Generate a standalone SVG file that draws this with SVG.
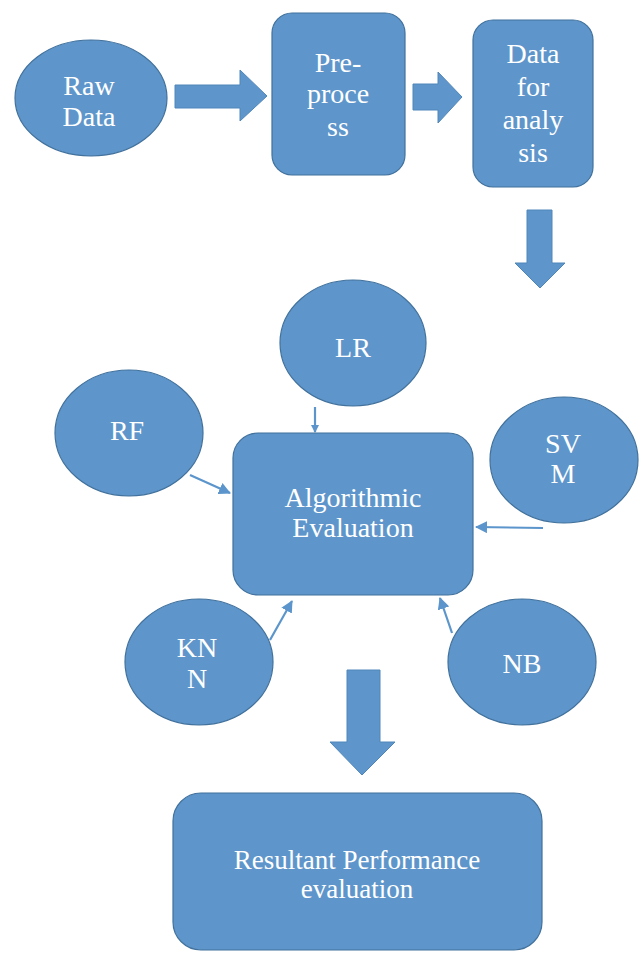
<svg xmlns="http://www.w3.org/2000/svg" width="639" height="958" viewBox="0 0 639 958">
<defs>
<style>
.n{fill:#5E96CB;stroke:#41719C;stroke-width:1.2}
.t{font-family:'Liberation Serif','Times New Roman',serif;font-size:28px;fill:#FFFFFF;text-anchor:middle}
.ba{fill:#5E96CB;stroke:#4F86BA;stroke-width:1}
.c{stroke:#5B95CB;stroke-width:2.2;fill:none}
</style>
<marker id="ah" markerWidth="8" markerHeight="8" refX="7" refY="4" orient="auto" markerUnits="userSpaceOnUse" viewBox="0 0 8 8">
<path d="M0,0 L8,4 L0,8 Z" fill="#5B95CB"/>
</marker>
<marker id="ahb" markerWidth="12" markerHeight="12" refX="11" refY="6" orient="auto" markerUnits="userSpaceOnUse" viewBox="0 0 12 12">
<path d="M0,0 L12,6 L0,12 Z" fill="#5B95CB"/>
</marker>
</defs>
<rect width="639" height="958" fill="#FFFFFF"/>
<g id="connectors">
<path class="ba" d="M175,85 L240,85 L240,70 L267,96 L240,121 L240,108 L175,108 Z"/>
<path class="ba" d="M413,84 L438,84 L438,72 L462,97 L438,123 L438,110 L413,110 Z"/>
<path class="ba" d="M527,210 L552,210 L552,263 L565,263 L540,288 L515,263 L527,263 Z"/>
<path class="ba" d="M347,670 L380,670 L380,742 L395,742 L362,775 L330,742 L347,742 Z"/>
<line class="c" x1="315" y1="407" x2="315" y2="432" marker-end="url(#ah)"/>
<line class="c" x1="190" y1="475" x2="230" y2="493" marker-end="url(#ahb)"/>
<line class="c" x1="543" y1="528" x2="476" y2="527" marker-end="url(#ahb)"/>
<line class="c" x1="270" y1="640" x2="292" y2="601" marker-end="url(#ahb)"/>
<line class="c" x1="452" y1="633" x2="440" y2="598" marker-end="url(#ahb)"/>
</g>
<g id="raw-data">
<ellipse class="n" cx="91" cy="98" rx="76" ry="58"/>
<text class="t" x="89" y="95" font-family="Liberation Serif, serif">Raw</text>
<text class="t" x="89" y="126" font-family="Liberation Serif, serif">Data</text>
</g>
<g id="preprocess">
<rect class="n" x="272" y="13" width="133" height="162" rx="20"/>
<text class="t" x="338" y="72">Pre-</text>
<text class="t" x="338" y="103">proce</text>
<text class="t" x="338" y="136">ss</text>
</g>
<g id="data-for-analysis">
<rect class="n" x="473" y="20" width="120" height="167" rx="20"/>
<text class="t" x="533" y="63">Data</text>
<text class="t" x="533" y="96">for</text>
<text class="t" x="533" y="129">analy</text>
<text class="t" x="533" y="162">sis</text>
</g>
<g id="lr">
<ellipse class="n" cx="353" cy="343" rx="73" ry="63"/>
<text class="t" x="353" y="357">LR</text>
</g>
<g id="rf">
<ellipse class="n" cx="129" cy="433" rx="74" ry="63"/>
<text class="t" x="127" y="440">RF</text>
</g>
<g id="svm">
<ellipse class="n" cx="564" cy="460" rx="74" ry="63"/>
<text class="t" x="563" y="453">SV</text>
<text class="t" x="563" y="483">M</text>
</g>
<g id="algorithmic-evaluation">
<rect class="n" x="233" y="433" width="240" height="162" rx="25"/>
<text class="t" x="353" y="507">Algorithmic</text>
<text class="t" x="353" y="537">Evaluation</text>
</g>
<g id="knn">
<ellipse class="n" cx="199" cy="662" rx="74" ry="63"/>
<text class="t" x="197" y="657">KN</text>
<text class="t" x="197" y="688">N</text>
</g>
<g id="nb">
<ellipse class="n" cx="522" cy="662" rx="74" ry="63"/>
<text class="t" x="522" y="673">NB</text>
</g>
<g id="resultant">
<rect class="n" x="173" y="793" width="369" height="157" rx="28"/>
<text class="t" x="357" y="869" style="font-size:27px">Resultant Performance</text>
<text class="t" x="357" y="898" style="font-size:27px">evaluation</text>
</g>
</svg>
